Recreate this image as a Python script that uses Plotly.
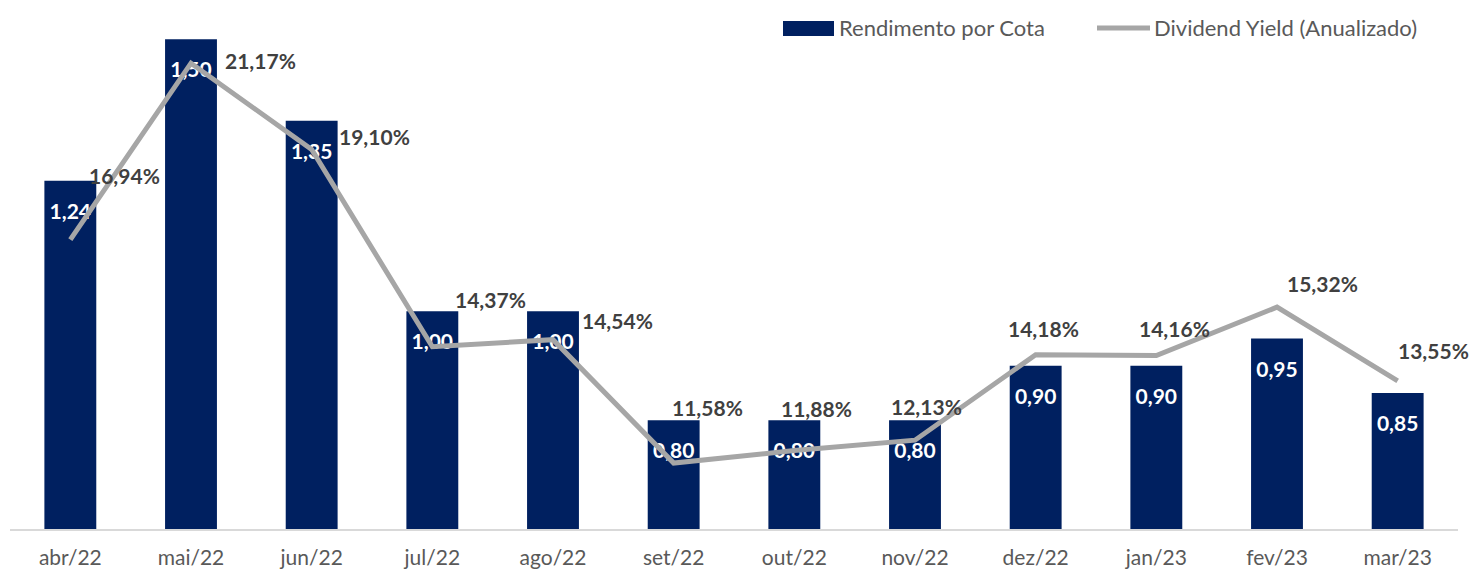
import plotly.graph_objects as go

categories = ["abr/22", "mai/22", "jun/22", "jul/22", "ago/22", "set/22",
              "out/22", "nov/22", "dez/22", "jan/23", "fev/23", "mar/23"]
rendimento = [1.24, 1.50, 1.35, 1.00, 1.00, 0.80, 0.80, 0.80, 0.90, 0.90, 0.95, 0.85]
dividend_yield = [0.1694, 0.2117, 0.1910, 0.1437, 0.1454, 0.1158,
                  0.1188, 0.1213, 0.1418, 0.1416, 0.1532, 0.1355]

# label offsets (pixels) for the yield labels, as placed in the original chart
dy_label_dx = [54, 69, 63, 58, 64, 34, 22, 11, 8, 18, 45, 36]
dy_label_dy = [64, 3, 13, 47, 19, 56, 42, 34, 26, 27, 24, 30]

NAVY = "#002060"
GREY = "#A6A6A6"
FONT = "Lato"

# page body has an 8px default margin; plot area is 1448 x 519
ML, MT, PW, PH = 2, 2, 1448, 519
W, H = 1478, 571

fig = go.Figure()

fig.add_trace(go.Bar(
    x=categories, y=rendimento, name="Rendimento por Cota",
    marker=dict(color=NAVY, line=dict(width=0)), width=0.43,
    hoverinfo="skip", showlegend=False,
))

# bar value labels (drawn beneath the line)
fig.add_trace(go.Scatter(
    x=categories, y=rendimento, mode="markers+text",
    text=[f"{v:.2f}".replace(".", ",") for v in rendimento],
    textposition="bottom center",
    marker=dict(size=34, opacity=0),
    textfont=dict(family=FONT, size=21, color="white", weight="bold"),
    hoverinfo="skip", showlegend=False,
))

fig.add_trace(go.Scatter(
    x=categories, y=dividend_yield, yaxis="y2", mode="lines",
    name="Dividend Yield (Anualizado)",
    line=dict(color=GREY, width=5), hoverinfo="skip", showlegend=False,
))

for c, v, dx, dy in zip(categories, dividend_yield, dy_label_dx, dy_label_dy):
    fig.add_annotation(
        x=c, y=v, yref="y2", xshift=dx, yshift=dy, showarrow=False,
        text=f"{v*100:.2f}%".replace(".", ","),
        font=dict(family=FONT, size=21, color="#404040", weight="bold"),
    )

def px(x):
    return (x - 10) / PW

def py(y):
    return (529 - y) / PH

# manual legend
fig.add_shape(type="rect", xref="paper", yref="paper",
              x0=px(783), x1=px(834), y0=py(36), y1=py(21),
              fillcolor=NAVY, line=dict(width=0))
fig.add_annotation(xref="paper", yref="paper", x=px(837), y=py(28),
                   xanchor="left", yanchor="middle", showarrow=False,
                   text="Rendimento por Cota",
                   font=dict(family=FONT, size=22, color="#595959"))
fig.add_shape(type="line", xref="paper", yref="paper",
              x0=px(1097), x1=px(1150), y0=py(28), y1=py(28),
              line=dict(color=GREY, width=5))
fig.add_annotation(xref="paper", yref="paper", x=px(1152), y=py(28),
                   xanchor="left", yanchor="middle", showarrow=False,
                   text="Dividend Yield (Anualizado)",
                   font=dict(family=FONT, size=22, color="#595959"))

fig.update_layout(
    width=W, height=H,
    margin=dict(l=ML, r=W - ML - PW, t=MT, b=H - MT - PH),
    plot_bgcolor="white", paper_bgcolor="white",
    separators=",.",
    font=dict(family=FONT, size=21, color="#595959"),
    showlegend=False,
    xaxis=dict(range=[-0.5, 11.5], showgrid=False, showline=True,
               linecolor="#D9D9D9", linewidth=1.5, ticklabelstandoff=9,
               ticks="", tickfont=dict(family=FONT, size=21, color="#595959")),
    yaxis=dict(range=[0.6, 0.6 + PH / 544.3], visible=False, showgrid=False),
    yaxis2=dict(range=[0.10, 0.10 + PH / 4170], overlaying="y", side="right",
                visible=False, showgrid=False),
)

fig.write_html("out.html")
